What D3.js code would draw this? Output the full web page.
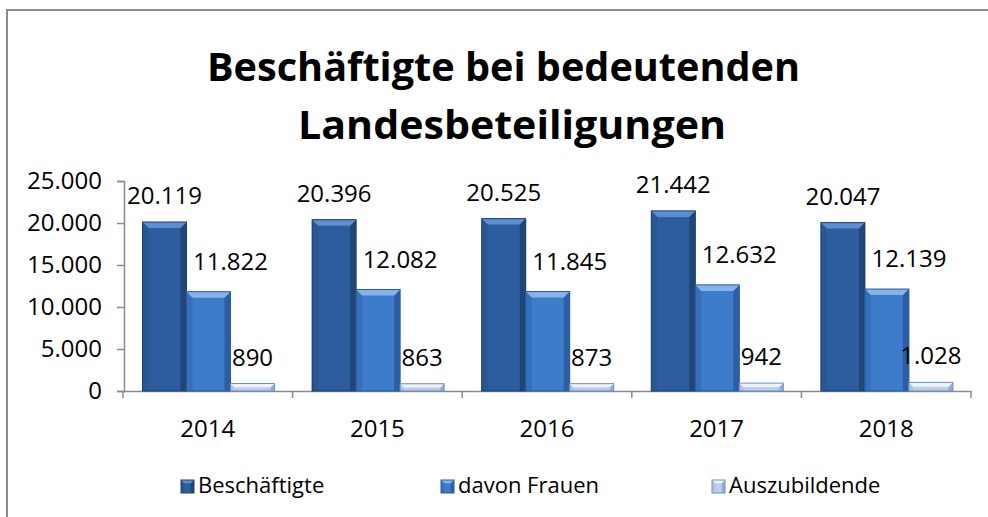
<!DOCTYPE html>
<html><head><meta charset="utf-8">
<script src="https://cdnjs.cloudflare.com/ajax/libs/d3/7.8.5/d3.min.js"></script>
<style>body{margin:0;background:#fff}svg{display:block}text{font-family:"Open Sans",sans-serif;fill:#000}</style>
</head><body><svg id="c" width="988" height="517"></svg>
<script>
const years = ["2014","2015","2016","2017","2018"];
const seriesNames = ["Beschäftigte","davon Frauen","Auszubildende"];
const beschaeftigte = [20119,20396,20525,21442,20047];
const frauen = [11822,12082,11845,12632,12139];
const azubis = [890,863,873,942,1028];
const yTicks = [0,5000,10000,15000,20000,25000];
const titleLines = ["Beschäftigte bei bedeutenden","Landesbeteiligungen"];

const seriesValues = [beschaeftigte, frauen, azubis];
const palette = [
  {body:"#2C5D9F", top:"#5E8DD0", left:"#285791", right:"#1F4677", stroke:"#1C3F6E"},
  {body:"#3D7BCB", top:"#86B3EA", left:"#3670BB", right:"#2C5EA3", stroke:"#2A5A9C"},
  {body:"#BCCFE9", top:"#EEF3FA", left:"#AFC4E3", right:"#93ADD4", stroke:"#6F8FC2"}
];
const labelDx = [0, 22, 0];
const labelGap = [18, 22, 18];

const svg = d3.select("#c");
const fmt = v => d3.format(",")(v).replace(/,/g, ".");

// outer frame
svg.append("rect").attr("x",7).attr("y",10).attr("width",1000).attr("height",600)
  .attr("fill","none").attr("stroke","#8a8a8a").attr("stroke-width",2);

// title
const tpos = [{x:207,y:81,len:593},{x:298,y:139,len:428}];
titleLines.forEach((t,i)=>{
  svg.append("text").attr("x",tpos[i].x).attr("y",tpos[i].y)
    .attr("font-size",40).attr("font-weight","bold")
    .attr("textLength",tpos[i].len).attr("lengthAdjust","spacingAndGlyphs").text(t);
});

const x0 = d3.scaleBand().domain(years).range([123,971]).padding(0);
const x1 = d3.scaleBand().domain(seriesNames).range([19.5,151.5]).padding(0);
const y = d3.scaleLinear().domain([0,25000]).range([391,181]);

// y axis
const yAxis = svg.append("g").attr("transform","translate(124,0)")
  .call(d3.axisLeft(y).tickValues(yTicks).tickFormat(fmt).tickSize(7).tickPadding(15));
yAxis.select(".domain").attr("stroke","#8a8a8a").attr("stroke-width",1.5);
yAxis.selectAll(".tick line").attr("stroke","#8a8a8a").attr("stroke-width",1.5);
yAxis.selectAll(".tick text").attr("font-size",24).attr("font-family","Open Sans").attr("fill","#000");

// x axis
const xAxis = svg.append("g").attr("transform","translate(0,391)")
  .call(d3.axisBottom(x0).tickSize(0).tickPadding(0).tickFormat(()=>""));
xAxis.select(".domain").attr("stroke","#8a8a8a").attr("stroke-width",1.5);
const bounds = years.map(d=>x0(d)).concat([x0.range()[1]]);
xAxis.selectAll("line.b").data(bounds).enter().append("line").attr("class","b")
  .attr("x1",d=>d).attr("x2",d=>d).attr("y1",0).attr("y2",7)
  .attr("stroke","#8a8a8a").attr("stroke-width",1.5);
svg.append("g").selectAll("text").data(years).enter().append("text")
  .attr("x",d=>x0(d)+x0.bandwidth()/2).attr("y",437)
  .attr("text-anchor","middle").attr("font-size",24).text(d=>d);

// bars
function bar(g, x, yy, w, h, c){
  const b = Math.min(6, h/2, w/4);
  g.append("rect").attr("x",x).attr("y",yy).attr("width",w).attr("height",h).attr("fill",c.body);
  g.append("polygon").attr("points",[[x,yy],[x+b,yy+b],[x+b,yy+h],[x,yy+h]].join(" ")).attr("fill",c.left);
  g.append("polygon").attr("points",[[x+w,yy],[x+w-b,yy+b],[x+w-b,yy+h],[x+w,yy+h]].join(" ")).attr("fill",c.right);
  g.append("polygon").attr("points",[[x,yy],[x+w,yy],[x+w-b,yy+b],[x+b,yy+b]].join(" ")).attr("fill",c.top);
  g.append("rect").attr("x",x).attr("y",yy).attr("width",w).attr("height",h)
    .attr("fill","none").attr("stroke",c.stroke).attr("stroke-width",1);
}
const barsG = svg.append("g");
seriesNames.forEach((s,si)=>{
  years.forEach((yr,i)=>{
    const v = seriesValues[si][i];
    const bx = x0(yr)+x1(s), bw = x1.bandwidth();
    bar(barsG, bx, y(v), bw, y(0)-y(v), palette[si]);
    svg.append("text").attr("x",bx+bw/2+labelDx[si]).attr("y",y(v)-labelGap[si])
      .attr("text-anchor","middle").attr("font-size",24).text(fmt(v));
  });
});

// legend
const legX = [181,441,712];
const lg = svg.append("g");
seriesNames.forEach((s,si)=>{
  bar(lg, legX[si], 480, 13, 13, palette[si]);
  lg.append("text").attr("x",legX[si]+17).attr("y",493).attr("font-size",22).text(s);
});
</script></body></html>
